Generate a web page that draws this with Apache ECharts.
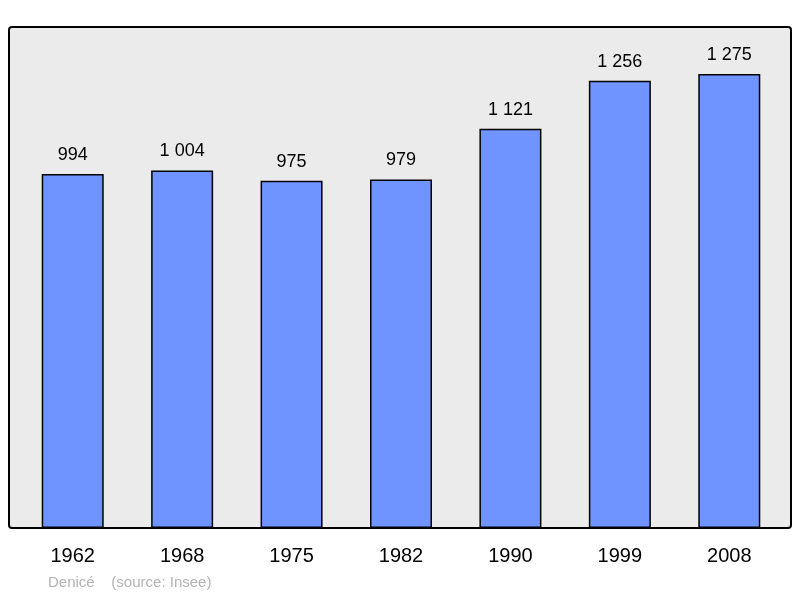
<!DOCTYPE html>
<html><head><meta charset="utf-8">
<script src="https://cdn.jsdelivr.net/npm/echarts@6/dist/echarts.min.js"></script>
<style>body{margin:0}#c{width:800px;height:598px}</style></head>
<body><div id="c"></div>
<script>
const years = ['1962', '1968', '1975', '1982', '1990', '1999', '2008'];
const population = [994, 1004, 975, 979, 1121, 1256, 1275];

const chart = echarts.init(document.getElementById('c'), null, {renderer: 'canvas'});
chart.setOption({
    animation: false,
    graphic: [
        {type: 'rect', shape: {x: 9, y: 27, width: 782, height: 501, r: 3}, z: -10,
            style: {fill: '#ebebeb', stroke: '#000', lineWidth: 2}},
        {type: 'text', left: 48, top: 575,
            style: {text: 'Denicé    (source: Insee)', fill: '#b3b3b3', font: '15px "Liberation Sans", Arial'}}
    ],
    grid: {left: 18, width: 766, top: 27, bottom: 70},
    xAxis: {
        type: 'category', data: years,
        axisLine: {show: false}, axisTick: {show: false},
        axisLabel: {color: '#000', fontSize: 20, fontFamily: 'Liberation Sans', margin: 18}
    },
    yAxis: {type: 'value', min: 0, max: 1407, show: false, splitLine: {show: false}},
    series: [{
        type: 'bar', data: population, barWidth: 62,
        itemStyle: {color: '#7094ff', borderColor: '#000', borderWidth: 1.5},
        label: {
            show: true, position: 'top', distance: 10, color: '#000', fontSize: 18,
            fontFamily: 'Liberation Sans',
            formatter: p => String(p.value).replace(/\B(?=(\d{3})+(?!\d))/g, ' ')
        }
    }]
});
</script></body></html>
